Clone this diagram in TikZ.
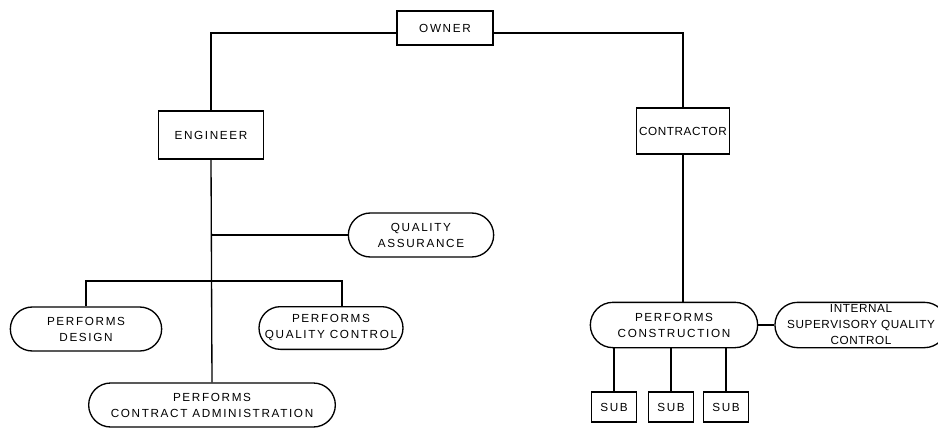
\documentclass[tikz,border=0pt]{standalone}
\usepackage{fontspec}
\newfontfamily\chartfont[LetterSpace=14]{Liberation Sans}
\newfontfamily\tightfont[LetterSpace=5]{Liberation Sans}
\usetikzlibrary{shapes.misc}

\tikzset{
  chart/.style={
    every node/.style={font=\chartfont\fontsize{8.8}{12}\selectfont,align=center,inner sep=1pt,draw,line width=1pt},
    party/.style={rectangle},
    task/.style={rounded rectangle},
    tight/.style={font=\tightfont\fontsize{8.8}{12}\selectfont,inner xsep=0pt},
    sub/.style={rectangle,minimum width=34pt,minimum height=22.5pt}
  }
}

\begin{document}
\begin{tikzpicture}[x=0.75pt, y=-0.75pt, chart, line width=1pt]
            \useasboundingbox (0,0) rectangle (938,428);

            \node[party,minimum width=72pt,minimum height=25.5pt] (OWN) at (445,28)  {OWNER};
            \node[party,minimum width=79pt,minimum height=36pt] (ENG) at (211,135)  {ENGINEER};
            \node[party,tight,minimum width=70pt,minimum height=34.5pt] (CON) at (683,131)  {CONTRACTOR};

            \node[task,minimum width=111pt,minimum height=33pt] (QA) at (421,235)  {QUALITY\\ASSURANCE};
            \node[task,minimum width=115.5pt,minimum height=33pt] (DES) at (86,329)  {PERFORMS\\DESIGN};
            \node[task,minimum width=106.5pt,minimum height=32pt] (QC) at (331,328)  {PERFORMS\\QUALITY CONTROL};
            \node[task,minimum width=187pt,minimum height=33pt] (ADM) at (212,405)  {PERFORMS\\CONTRACT ADMINISTRATION};

            \node[task,minimum width=127.5pt,minimum height=34pt] (CST) at (674,325)  {PERFORMS\\CONSTRUCTION};
            \node[task,tight,minimum width=118.5pt,minimum height=34pt] (ISQ) at (861,325)  {INTERNAL\\SUPERVISORY QUALITY\\CONTROL};

            \node[sub] (S1) at (614,407)  {SUB};
            \node[sub] (S2) at (671,407)  {SUB};
            \node[sub] (S3) at (726,407)  {SUB};

            \coordinate (bar) at (342,281);

            \draw ([yshift=-3.75pt]OWN.west) -| (ENG.north);
            \draw ([yshift=-3.75pt]OWN.east) -| (CON.north);
            \draw (ENG.south) -- (ADM.north);
            \draw (ENG.south |- QA.west) -- (QA.west);
            \draw (DES.north) |- (bar) -- (bar |- QC.north);
            \draw (CON.south) -- (CON.south |- CST.north);
            \draw (CST.east) -- (ISQ.west);
            \draw (S1.north) -- (S1.north |- CST.south) (S2.north) -- (S2.north |- CST.south) (S3.north) -- (S3.north |- CST.south);

        \end{tikzpicture}
\end{document}
